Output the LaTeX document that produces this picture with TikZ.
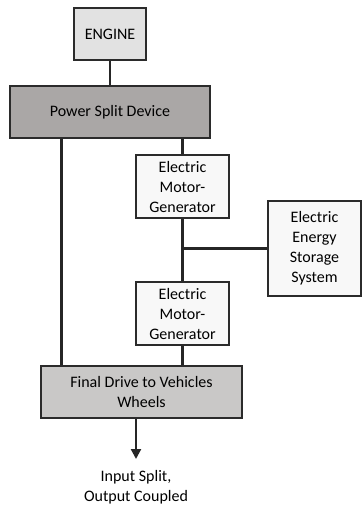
\documentclass[tikz,border=0pt]{standalone}
\usepackage{fontspec}
\setmainfont{Carlito}
\usepackage{xcolor}
\usepackage{tikz}
\usetikzlibrary{arrows.meta,positioning}

\definecolor{enginegray}{HTML}{E2E2E2}
\definecolor{splitgray}{HTML}{AAA7A6}
\definecolor{drivegray}{HTML}{C9C8C7}
\definecolor{boxwhite}{HTML}{F8F8F8}
\definecolor{edgegray}{HTML}{2B2B2B}

\begin{document}
\begin{tikzpicture}[
    x=1pt, y=-1pt,
    font=\fontsize{16}{20}\selectfont,
    >={Triangle[length=10pt,width=10pt]},
    block/.style={draw=edgegray, line width=1.3pt, align=center, inner sep=1pt, fill=#1},
    block/.default=boxwhite,
    link/.style={line width=2.3pt, black!85},
    outarrow/.style={->, line width=2.3pt, black!85}
  ]
    \useasboundingbox (0,0) rectangle (362,507);

    \node[block=enginegray, minimum width=72pt, minimum height=52pt] (engine) at (110,34) {ENGINE};
    \node[block=splitgray, minimum width=200pt, minimum height=52pt] (split) at (110,112) {Power Split Device};
    \node[block, minimum width=93pt, minimum height=63pt] (mg1) at (182.5,186.5) {Electric\\Motor-\\Generator};
    \node[block, minimum width=93pt, minimum height=95pt] (storage) at (314.5,248.5) {Electric\\Energy\\Storage\\System};
    \node[block, minimum width=93pt, minimum height=63pt] (mg2) at (182.5,313.5) {Electric\\Motor-\\Generator};
    \node[block=drivegray, minimum width=201pt, minimum height=52pt] (drive) at (141.5,392) {Final Drive to Vehicles\\Wheels};
    \node[align=center, anchor=north, inner sep=1pt] (result) at (136,469) {Input Split,\\Output Coupled};

    % mechanical path
    \draw[link] (engine.south) -- (split.north);
    \draw[link] ([xshift=52pt]split.south west) -- ([xshift=52pt]split.south west |- drive.north);
    \draw[link] (mg1.north |- split.south) -- (mg1.north);
    \draw[link] (mg1.south) -- (mg2.north);
    \draw[link] (mg1.south |- storage.west) -- (storage.west);
    \draw[link] (mg2.south) -- (mg2.south |- drive.north);
    \draw[outarrow] (drive.south -| result.north) -- ([yshift=10pt]result.north);
  \end{tikzpicture}
\end{document}
